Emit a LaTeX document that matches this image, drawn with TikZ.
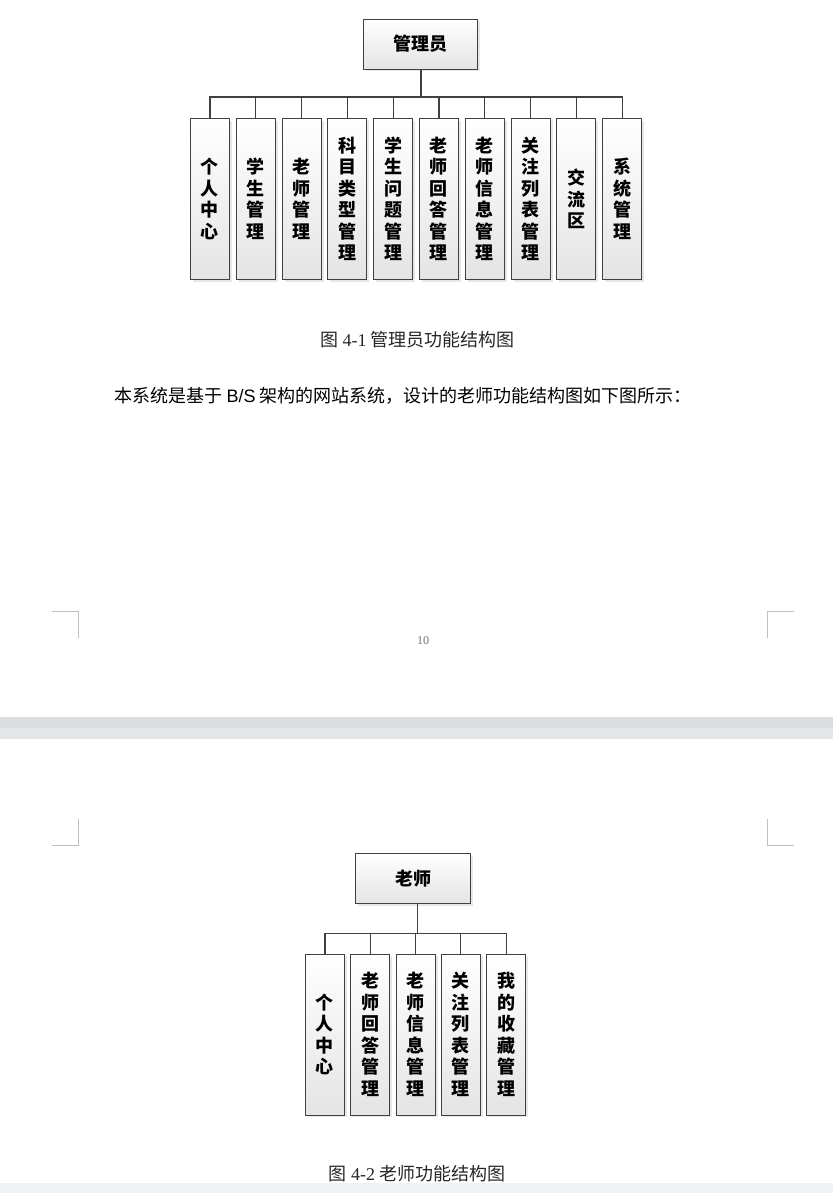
\documentclass[tikz,border=0pt]{standalone}
\usepackage{fontspec}
\setmainfont{Liberation Serif}
\newfontfamily\cjk{Noto Sans CJK SC}
\newfontfamily\latinsans{Liberation Sans}
\usetikzlibrary{positioning, shadows}

\definecolor{boxline}{HTML}{404040}
\definecolor{boxgray}{HTML}{E4E4E4}
\definecolor{markgray}{HTML}{C0C0C0}
\definecolor{bandtop}{HTML}{DCDDE0}
\definecolor{bandbot}{HTML}{E4E5E7}
\definecolor{stripgray}{HTML}{F0F1F3}

\tikzset{
  box/.style={draw=boxline, line width=0.9pt, top color=white, bottom color=boxgray,
    drop shadow={shadow xshift=2.5pt, shadow yshift=-2.5pt, fill=black!18}},
  rootbox/.style={box, minimum width=114pt, minimum height=50pt, inner sep=0pt,
    font=\cjk\bfseries\fontsize{18}{20}\selectfont},
  leafbox/.style={box, minimum width=39pt, minimum height=161pt, inner sep=0pt, align=center,
    font=\cjk\bfseries\fontsize{18}{21.5}\selectfont},
  conn/.style={draw=boxline, line width=1.2pt},
  caption/.style={font=\cjk\fontsize{18}{20}\selectfont, text=black!85},
  cornermark/.style={draw=markgray, line width=1pt}
}

\begin{document}
\begin{tikzpicture}[x=1pt, y=-1pt]
\useasboundingbox (0,0) rectangle (833,1193);
\fill[white] (0,0) rectangle (833,1193);

% page one
\node (ra) [rootbox] at (420,44) {管理员};
\node (a1) [leafbox, anchor=north west] at (190,118) {个\\人\\中\\心};
\node (a2) [leafbox, right=5.9pt of a1] {学\\生\\管\\理};
\node (a3) [leafbox, right=5.9pt of a2] {老\\师\\管\\理};
\node (a4) [leafbox, right=5.9pt of a3] {科\\目\\类\\型\\管\\理};
\node (a5) [leafbox, right=5.9pt of a4] {学\\生\\问\\题\\管\\理};
\node (a6) [leafbox, right=5.9pt of a5] {老\\师\\回\\答\\管\\理};
\node (a7) [leafbox, right=5.9pt of a6] {老\\师\\信\\息\\管\\理};
\node (a8) [leafbox, right=5.9pt of a7] {关\\注\\列\\表\\管\\理};
\node (a9) [leafbox, right=5.9pt of a8] {交\\流\\区};
\node (a10) [leafbox, right=5.9pt of a9] {系\\统\\管\\理};
\coordinate (busa) at (421,97);

\draw[conn] (ra.south -| busa) -- (busa);
\foreach \i in {1,...,10}
  \draw[conn] (a\i.north) |- (busa);

\node (capa) [caption] at (417.5,340) {图 {\rmfamily 4-1} 管理员功能结构图};
\node (texta) [anchor=west, inner sep=0pt, font=\cjk\fontsize{18}{20}\selectfont] at (114.5,396)
  {本系统是基于 {\latinsans B/S} 架构的网站系统，设计的老师功能结构图如下图所示：};

\node (pageno) [font=\fontsize{12}{14}\selectfont, text=black!55] at (423,641) {10};
\draw[cornermark] (52,611) -- (78.7,611) -- (78.7,637.7);
\draw[cornermark] (794,611) -- (767.3,611) -- (767.3,637.7);

% gap between pages
\fill[bandtop] (0,717.3) rectangle (833,728);
\fill[bandbot] (0,728) rectangle (833,738.7);

% page two
\draw[cornermark] (78.7,819) -- (78.7,845.3) -- (52,845.3);
\draw[cornermark] (767.3,819) -- (767.3,845.3) -- (794,845.3);

\node (rb) [rootbox, minimum width=115pt] at (413.3,878.3) {老师};
\node (b1) [leafbox, anchor=north west] at (305,953.5) {个\\人\\中\\心};
\node (b2) [leafbox, right=5.4pt of b1] {老\\师\\回\\答\\管\\理};
\node (b3) [leafbox, right=5.4pt of b2] {老\\师\\信\\息\\管\\理};
\node (b4) [leafbox, right=5.4pt of b3] {关\\注\\列\\表\\管\\理};
\node (b5) [leafbox, right=5.4pt of b4] {我\\的\\收\\藏\\管\\理};
\coordinate (busb) at (417.7,933.3);

\draw[conn] (rb.south -| busb) -- (busb);
\foreach \i in {1,...,5}
  \draw[conn] (b\i.north) |- (busb);

\node (capb) [caption] at (417,1174) {图 {\rmfamily 4-2} 老师功能结构图};
\fill[stripgray] (0,1183.3) rectangle (833,1193);
\end{tikzpicture}
\end{document}
